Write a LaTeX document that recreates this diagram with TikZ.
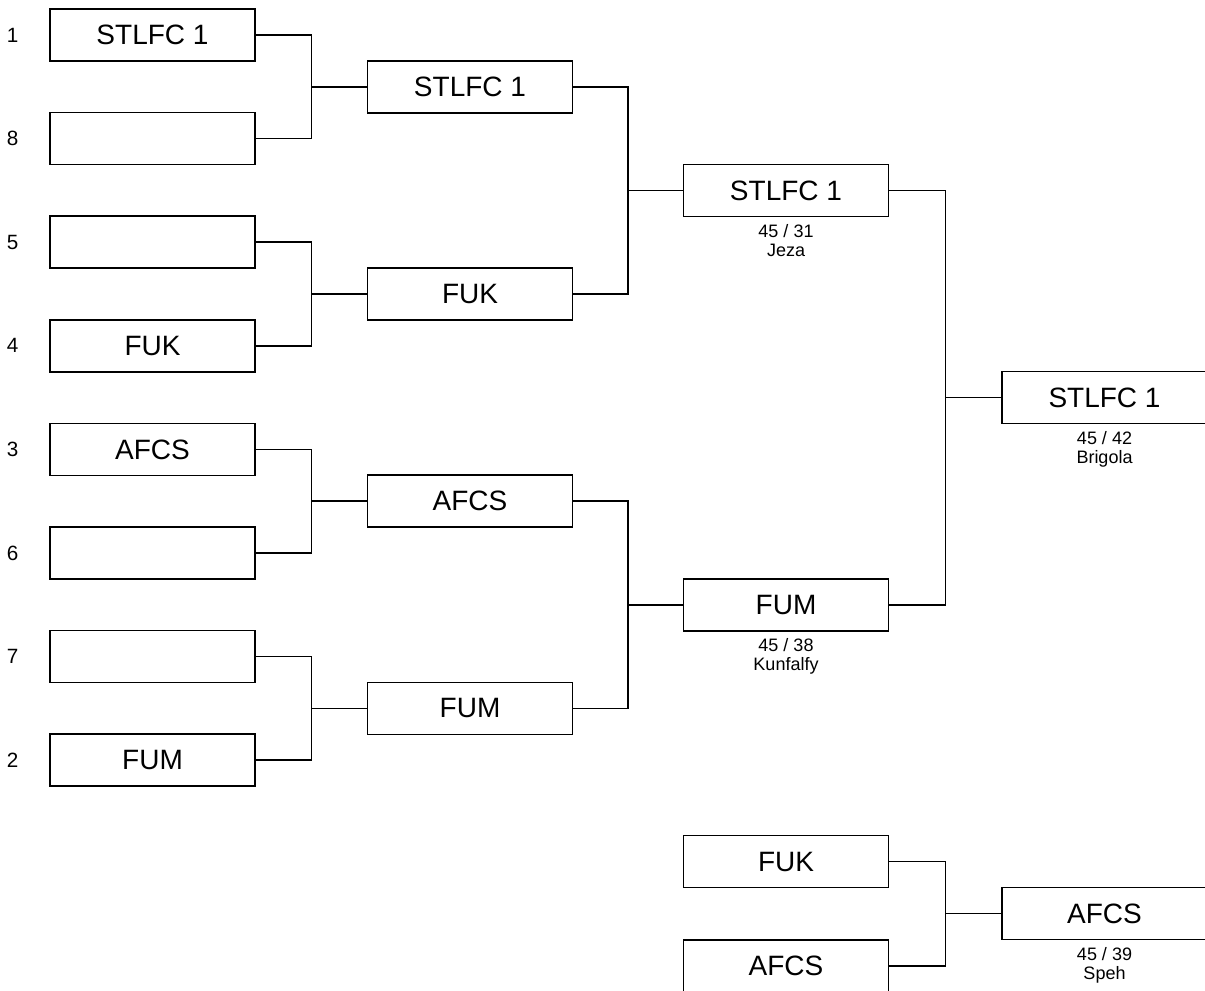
\documentclass[tikz,border=0pt]{standalone}
\usepackage{fontspec}
\setmainfont{Liberation Sans}
\usetikzlibrary{positioning,calc}

\tikzset{
  team/.style={draw,line width=1.1pt,minimum width=153.75pt,minimum height=39pt,
    inner sep=0pt,font=\fontsize{21}{25}\selectfont},
  seed/.style={inner sep=0pt,font=\fontsize{15.5}{18}\selectfont},
  score/.style={inner sep=0pt,align=center,font=\fontsize{13.5}{14.5}\selectfont},
  link/.style={line width=1.1pt}
}

\begin{document}
\begin{tikzpicture}[x=.75pt,y=-.75pt]
  \useasboundingbox (0,0) rectangle (1205,991);
  % first round
  \foreach \t [count=\i] in {STLFC 1,{},{},FUK,AFCS,{},{},FUM}
    \node[team] (r\i) at (152.5,{35+103.6*(\i-1)}) {\t};
  \foreach \s [count=\i] in {1,8,5,4,3,6,7,2}
    \node[seed,left=23pt of r\i] (n\i) {\s};
  % quarter and semi
  \foreach \t [count=\i] in {STLFC 1,FUK,AFCS,FUM}
    \node[team] (q\i) at (470,{86.8+207.2*(\i-1)}) {\t};
  \node[team] (s1) at (786,190.4) {STLFC 1};
  \node[team] (s2) at (786,604.8) {FUM};
  \node[team] (f) at (1104.5,397.6) {STLFC 1};
  % third place
  \node[team] (t1) at (786,861.5) {FUK};
  \node[team] (t2) at (786,966) {AFCS};
  \node[team] (t3) at (1104.5,913.7) {AFCS};
  \node[score,below=5pt of s1] (sc1) {45 / 31\\Jeza};
  \node[score,below=5pt of s2] (sc2) {45 / 38\\Kunfalfy};
  \node[score,below=5pt of f] (sc3) {45 / 42\\Brigola};
  \node[score,below=5pt of t3] (sc4) {45 / 39\\Speh};
  \foreach \a/\b/\w in {r1/r2/q1,r3/r4/q2,r5/r6/q3,r7/r8/q4,q1/q2/s1,q3/q4/s2,s1/s2/f,t1/t2/t3}
    \draw[link] (\a.east) -| ($(\a.east)!.5!(\w.west)$) |- (\w.west)
      (\b.east) -| ($(\b.east)!.5!(\w.west)$) |- (\w.west);
\end{tikzpicture}
\end{document}
